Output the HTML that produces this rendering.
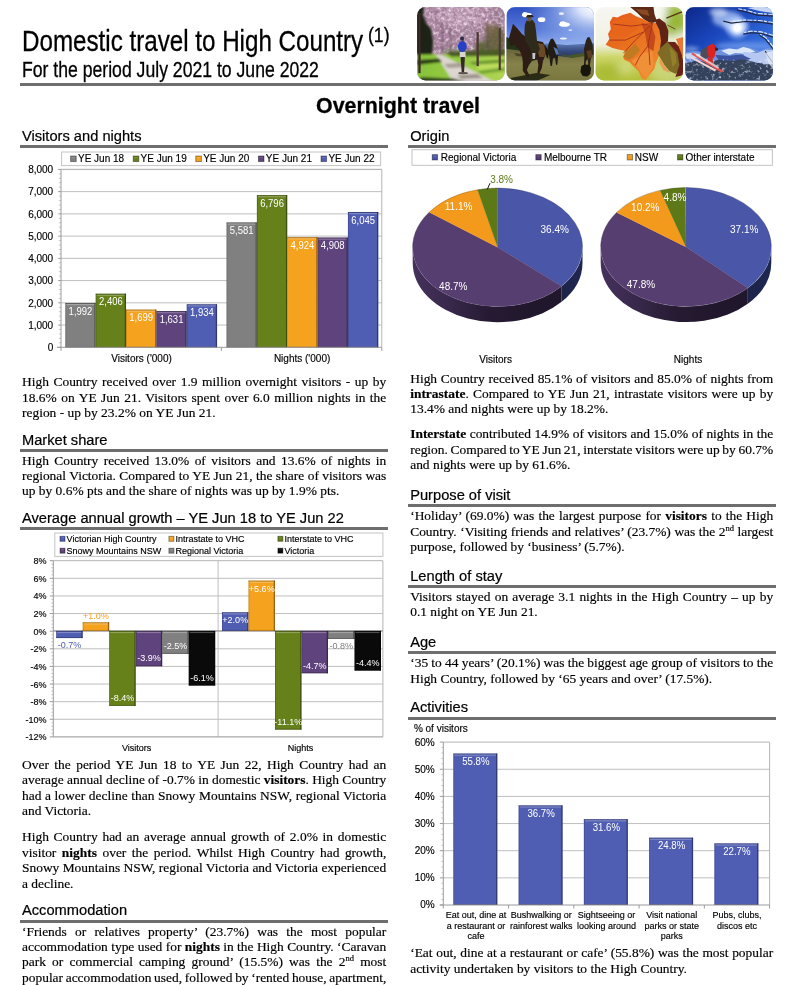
<!DOCTYPE html>
<html lang="en"><head><meta charset="utf-8"><title>Domestic travel to High Country</title>
<style>
html,body{margin:0;padding:0;background:#fff}
body{width:795px;height:985px;position:relative;overflow:hidden;font-family:'Liberation Sans', Arial, sans-serif;color:#000}
.t{-webkit-text-stroke:0.17px #000;position:absolute;white-space:nowrap;font-family:'Liberation Serif', 'Times New Roman', serif;font-size:13.45px;line-height:15.33px;height:15.33px}
.t sup.s{font-size:8.5px;vertical-align:0;position:relative;top:-5px;line-height:0}
.h{-webkit-text-stroke:0.2px #000;position:absolute;white-space:nowrap;font-size:14.67px;line-height:17px}
.x{-webkit-text-stroke:0.3px #000;position:absolute;white-space:nowrap}
.r{position:absolute;background:#6e6e6e}
svg.c{position:absolute;left:0;top:0}
svg.c text{font-family:'Liberation Sans', Arial, sans-serif}
</style></head>
<body>
<svg class="c" width="795" height="985" viewBox="0 0 795 985">

<defs>
<filter id="b05" x="-10%" y="-10%" width="120%" height="120%"><feGaussianBlur stdDeviation="0.55"/></filter>
<filter id="b1" x="-20%" y="-20%" width="140%" height="140%"><feGaussianBlur stdDeviation="1"/></filter>
<filter id="b2" x="-30%" y="-30%" width="160%" height="160%"><feGaussianBlur stdDeviation="2.2"/></filter>
<filter id="b4" x="-40%" y="-40%" width="180%" height="180%"><feGaussianBlur stdDeviation="4.5"/></filter>
<filter id="spk" x="0" y="0" width="100%" height="100%"><feTurbulence type="fractalNoise" baseFrequency="0.32" numOctaves="2" seed="7" result="n"/><feColorMatrix in="n" type="matrix" values="0 0 0 0 1  0 0 0 0 0.9  0 0 0 0 0.97  2.6 0 0 0 -1.15"/></filter>
<filter id="spd" x="0" y="0" width="100%" height="100%"><feTurbulence type="fractalNoise" baseFrequency="0.28" numOctaves="2" seed="23" result="n"/><feColorMatrix in="n" type="matrix" values="0 0 0 0 0.28  0 0 0 0 0.16  0 0 0 0 0.24  0 2.8 0 0 -1.2"/></filter>
<filter id="snw" x="0" y="0" width="100%" height="100%"><feTurbulence type="fractalNoise" baseFrequency="0.3" numOctaves="2" seed="5" result="n"/><feColorMatrix in="n" type="matrix" values="0 0 0 0 0.8  0 0 0 0 0.86  0 0 0 0 1  3.4 0 0 0 -1.85"/></filter>
<clipPath id="tile"><rect x="0" y="0" width="87.6" height="73.4" rx="8.5" ry="8.5"/></clipPath>
<linearGradient id="sky2" x1="0" y1="0" x2="0" y2="1"><stop offset="0" stop-color="#2f50c2"/><stop offset="0.3" stop-color="#5678d8"/><stop offset="0.52" stop-color="#93b0ee"/><stop offset="0.66" stop-color="#c8dcfa"/><stop offset="1" stop-color="#c8dcfa"/></linearGradient>
<radialGradient id="sun2" cx="1" cy="0" r="0.8"><stop offset="0" stop-color="#ffffff"/><stop offset="0.22" stop-color="#eef4ff" stop-opacity="0.9"/><stop offset="0.6" stop-color="#b0c8f4" stop-opacity="0.45"/><stop offset="1" stop-color="#a0bcf0" stop-opacity="0"/></radialGradient>
<linearGradient id="gr2" x1="0" y1="0" x2="0" y2="1"><stop offset="0" stop-color="#66633a"/><stop offset="0.45" stop-color="#86824a"/><stop offset="1" stop-color="#77743c"/></linearGradient>
<linearGradient id="mt2" x1="0" y1="0" x2="0" y2="1"><stop offset="0" stop-color="#5f7dbc"/><stop offset="0.5" stop-color="#34497c"/><stop offset="1" stop-color="#26345a"/></linearGradient>
<linearGradient id="sky4" x1="0" y1="0" x2="0.75" y2="0.8"><stop offset="0" stop-color="#0c2888"/><stop offset="0.45" stop-color="#1a46bc"/><stop offset="1" stop-color="#3f7ae4"/></linearGradient>
<radialGradient id="sun4" cx="0.5" cy="0.5" r="0.5"><stop offset="0" stop-color="#ffffff"/><stop offset="0.22" stop-color="#ffffff"/><stop offset="0.5" stop-color="#cfe0ff" stop-opacity="0.7"/><stop offset="1" stop-color="#6a98f0" stop-opacity="0"/></radialGradient>
<linearGradient id="bg3" x1="0" y1="0" x2="0" y2="1"><stop offset="0" stop-color="#f7f7f2"/><stop offset="0.5" stop-color="#f0f1e2"/><stop offset="0.68" stop-color="#cdd568"/><stop offset="1" stop-color="#b2c03a"/></linearGradient>
<linearGradient id="lf3" x1="0" y1="0" x2="0.7" y2="1"><stop offset="0" stop-color="#e4581a"/><stop offset="0.5" stop-color="#e9701f"/><stop offset="1" stop-color="#f08a30"/></linearGradient>
<linearGradient id="gs1" x1="0" y1="0" x2="1" y2="0"><stop offset="0" stop-color="#86c23a"/><stop offset="0.55" stop-color="#9acc44"/><stop offset="1" stop-color="#b4d654"/></linearGradient>
</defs>

<!-- tile 1 : cherry blossom cycle path -->
<g transform="translate(417.1,7.1)" clip-path="url(#tile)">
<rect width="88" height="74" fill="#b089a6"/>
<g filter="url(#b2)">
<ellipse cx="44" cy="10" rx="24" ry="10" fill="#c6a3bd"/>
<ellipse cx="28" cy="30" rx="12" ry="10" fill="#b088a6"/>
<ellipse cx="52" cy="26" rx="10" ry="8" fill="#a98aa0"/>
<ellipse cx="82" cy="8" rx="8" ry="8" fill="#a2859a"/>
<ellipse cx="36" cy="44" rx="10" ry="3.5" fill="#8a9a78"/>
</g>
<rect width="88" height="50" filter="url(#spk)" opacity="0.8"/>
<rect width="88" height="50" filter="url(#spd)" opacity="0.75"/>
<g filter="url(#b2)" opacity="0.85">
<ellipse cx="78" cy="33" rx="10" ry="15" fill="#5f5c30"/>
<ellipse cx="65" cy="41" rx="7" ry="7" fill="#52602a"/>
<ellipse cx="72" cy="22" rx="5" ry="5" fill="#7a6a48"/>
</g>
<g filter="url(#b1)">
<path d="M-2,-2 L7,-2 L6,8 L9,16 L14,22 L16,34 L15.4,46 L12,54 L5,56 L-2,56 Z" fill="#1b2412"/>
<path d="M24.6,14 L25.6,14 L26,47 L24.8,47 Z M33,20 L34,20 L34.4,47 L33.2,47 Z M70,18 L71,18 L71.4,46 L70.2,46 Z" fill="#5c4656"/>
<path d="M-2,47.5 L90,47 L90,76 L-2,76 Z" fill="url(#gs1)"/>
<path d="M18.5,47.4 L24,47.4 L78,75 L36,75 Z" fill="#dcd6ce"/>
<path d="M27,57 L44,56 L50,60 L31,61 Z" fill="#a89e96"/>
<path d="M40,68 L60,67 L66,71 L44,72 Z" fill="#9c948c"/>
<path d="M0,53 L22,51.5 L25,55 L0,58 Z" fill="#2c4016"/>
<path d="M4,70 L36,71.5 L54,76 L0,76 Z" fill="#33481c"/>
<path d="M28,45 L88,42 L88,49 L34,49.5 Z" fill="#4c5c28"/>
<path d="M52,55 L88,52 L88,56 L56,58 Z" fill="#6c9a30"/>
<path d="M60,64 L88,60 L88,64 L64,67 Z" fill="#78a636"/>
<path d="M62,57.4 L88,55.6 L88,60 L60,63.4 Z" fill="#bcdc5c"/>
</g>
<g filter="url(#b05)">
<rect x="59.4" y="25" width="2.3" height="34" fill="#4a3a30"/>
<rect x="81.6" y="21" width="2.1" height="42" fill="#4a3a30"/>
<rect x="1.2" y="6" width="2.3" height="60" fill="#3a2a26"/>
<rect x="45.2" y="30" width="1.4" height="16" fill="#64505c"/>
<ellipse cx="45.2" cy="39.4" rx="4.4" ry="5.6" fill="#2a40c4"/>
<ellipse cx="44.9" cy="31.4" rx="1.9" ry="2.1" fill="#2a2c48"/>
<path d="M42.6,45 L48.4,45 L48.6,51 L42.8,51 Z" fill="#d8d4d0"/>
<path d="M43.4,50 L47.8,50 L47,65 L44.6,65 Z" fill="#302c28"/>
<ellipse cx="46" cy="66" rx="5" ry="1.2" fill="#5a524c"/>
</g>
</g>

<!-- tile 2 : horse riders -->
<g transform="translate(506.4,7.1)" clip-path="url(#tile)">
<rect width="88" height="74" fill="url(#sky2)"/>
<rect width="88" height="56" fill="url(#sun2)"/>
<g filter="url(#b05)" fill="#ffffff">
<ellipse cx="20.4" cy="8" rx="5" ry="2.3"/><ellipse cx="18.5" cy="6.6" rx="2.4" ry="1.6"/><ellipse cx="35.2" cy="12.6" rx="3.8" ry="2.4"/><ellipse cx="58" cy="17.4" rx="5.4" ry="2.3"/><ellipse cx="56.5" cy="16" rx="3" ry="1.8"/><ellipse cx="55" cy="6.6" rx="2.6" ry="1.4" opacity="0.8"/><ellipse cx="57" cy="31.4" rx="3.4" ry="1.1" opacity="0.85"/><ellipse cx="64" cy="23" rx="2" ry="0.9" opacity="0.7"/>
</g>
<g filter="url(#b05)">
<path d="M28,37 L44,36.4 L60,38 L76,37 L88,36 L88,52 L28,52 Z" fill="url(#mt2)"/>
<path d="M-2,29 L4,32 L10,38 L16,41 L16,48 L-2,48 Z" fill="#243418"/>
<path d="M-2,41.5 L20,44.5 L40,47.5 L64,50.5 L78,48 L90,46 L90,76 L-2,76 Z" fill="url(#gr2)"/>
<path d="M50,47 L62,48.4 L76,46 L88,43.4 L88,47.4 L66,51 Z" fill="#46542a"/>
<path d="M4,71 L30,66 L44,68 L30,74 L6,76 Z" fill="#2c2c16"/>
<path d="M8,46 L20,48 L22,50 L10,49 Z" fill="#4a4426"/>
</g>
<g filter="url(#b05)">
<path d="M6.6,16.6 L8.6,19 L11,21.4 L15.6,27 L22,31.4 L30,33.6 L36.4,35 L39.6,40.6 L39,48 L36.6,54 L35.4,61 L32.6,67.4 L31,66 L32,58 L31,52.4 L25.4,54 L22.6,58 L20.4,63 L23.4,69 L21,70.4 L16.4,63.6 L16.4,55 L15.6,49 L12.4,42 L8,38 L4,38.4 L2,33 L4.6,24 Z" fill="#2d1e12"/>
<path d="M30,36 L37,37 L39.4,44 L38,50 L33,50 L31,44 Z" fill="#6a4826"/>
<path d="M38.6,38 L41.6,43 L42,52 L40,50 L39,44 Z" fill="#1e160e"/>
<path d="M20,13.6 L26,13 L28.6,16.4 L29.6,24 L30.6,33.6 L33.4,42 L31.6,46 L28,46.6 L26.4,53 L24,53 L24.6,44 L22,38.6 L19,34 L18,26 L18.4,18 Z" fill="#2e2a1c"/>
<ellipse cx="23" cy="12" rx="2.2" ry="2.3" fill="#6a5440"/>
<path d="M19,10.6 L27.4,10 L26,8 L21,8 Z" fill="#28241a"/>
<path d="M26,46 L29,46 L28.6,52 L26.2,52 Z" fill="#c8c8d0"/>
<path d="M42.6,35.6 L44.4,32 L46.4,31.4 L48,34 L50,38 L52,44 L51.6,50 L51,57.6 L49.6,57.6 L48.6,51 L46.6,51.4 L45.6,59 L44,58.6 L43,50 L41,45 L41.6,39 Z" fill="#241e16"/>
<path d="M47,40 L51,42 L52.4,47 L50,48 Z" fill="#5a78b0"/>
<path d="M79.4,34 L81,30.4 L83,30 L84.6,33 L86.4,38 L86.4,47 L84.4,52 L83.4,59 L82,59 L81.4,52 L79.6,54 L79,58 L77.6,58 L78,48 L77.6,42 Z" fill="#2a2016"/>
<path d="M80,44 L85,43 L86,50 L82,52 Z" fill="#5c3c20"/>
<path d="M75,59 L78,57.4 L82.6,57.6 L84.6,61 L84,66.6 L81,69.4 L76.4,69 L74,65 Z" fill="#12120e"/>
</g>
</g>

<!-- tile 3 : autumn leaf -->
<g transform="translate(595.4,7.1)" clip-path="url(#tile)">
<rect width="88" height="74" fill="url(#bg3)"/>
<g filter="url(#b4)">
<ellipse cx="80" cy="14" rx="13" ry="17" fill="#98b838"/>
<ellipse cx="72" cy="64" rx="18" ry="12" fill="#c9d478"/>
<ellipse cx="66" cy="8" rx="5" ry="8" fill="#fafaf2"/>
<ellipse cx="12" cy="66" rx="14" ry="9" fill="#aabc34"/>
<ellipse cx="84" cy="30" rx="5" ry="5" fill="#eef0d8"/>
<ellipse cx="30" cy="60" rx="8" ry="6" fill="#d2da80"/>
</g>
<g filter="url(#b05)">
<path d="M33.6,-1 L58,-1 L59,7 L61.4,14 L56,17 L48,12 L42,6 Z" fill="#5a2a14"/>
<path d="M40,2 L52,3 L54,9 L46,7 Z" fill="#8a4a20"/>
<path d="M17.4,9.6 L22,10.4 L27,8 L35,5.6 L40,9 L47,11.6 L54,15.4 L61,16 L65,24 L66,38 L64,48 L60.4,56 L59,62 L54,68 L50.4,73 L46.6,72 L43,64 L38.6,60 L34,55 L29,52.6 L27.8,50 L30,44 L24,42.6 L17,41 L10.2,37.6 L14,32 L12.6,27 L15.4,22 L14.4,15 Z" fill="url(#lf3)"/>
<path d="M28,50 L31,44 L40,36.6 L44.6,43 L38,50 L33,53 Z" fill="#c07a22"/>
<path d="M36,54 L48,46 L57,44 L58,58 L51,71 L46,66 L42,60 Z" fill="#f09038"/>
<path d="M18,14 L30,10 L40,13 L42,22 L30,30 L18,28 Z" fill="#e8661e"/>
<path d="M46,16 L56,18 L60,30 L58,44 L52,40 L50,28 Z" fill="#c44a1a"/>
<path d="M57,16.4 L40,33 L28,46 M57,16.4 L53,36 L54.6,58 M57,16.4 L36,19 L18,17 M48,25 L30,33 L14,33 M53,38 L44,50 L40,58" stroke="#a6321a" stroke-width="0.9" fill="none"/>
<path d="M59,13 L64,11.4 L70,16 L73,24 L72.6,34 L68,41 L64,46 L65.6,34 L64,23 Z" fill="#5e2416"/>
<path d="M62,46 L66,40 L72,34.6 L80,35 L85.6,42 L87,54 L85.6,63 L80,66.6 L74,64 L69,58 Z" fill="#7e6c26"/>
<path d="M72,35 L79,35 L85.6,42 L88,56 L88,68 L80,70 L84,58 L82,46 Z" fill="#6a2414"/>
<path d="M74,40 L80,46 L81,56 L77,60 Z" fill="#94802c"/>
<path d="M80.6,32 L88,30 L88,52 L84.6,43 Z" fill="#ea7832"/>
<path d="M64,50 L70,60 L75,66 L68,63 L64,56 Z" fill="#ea9c54"/>
<path d="M71,11 L87,4.6" stroke="#5a3414" stroke-width="1.3"/>
<path d="M72,18 L80,22" stroke="#5a3414" stroke-width="0.8"/>
</g>
</g>

<!-- tile 4 : skier -->
<g transform="translate(685.3,7.1)" clip-path="url(#tile)">
<rect width="88" height="74" fill="url(#sky4)"/>
<g filter="url(#b2)">
<ellipse cx="42" cy="12" rx="15" ry="8" fill="#a4bef0" opacity="0.8"/>
<ellipse cx="33" cy="5" rx="9" ry="4" fill="#cddcf8" opacity="0.75"/>
<ellipse cx="50" cy="18" rx="12" ry="7" fill="#c4d8fa" opacity="0.8"/>
<ellipse cx="60" cy="39" rx="30" ry="4" fill="#6c96ea" opacity="0.8"/>
<ellipse cx="6" cy="42" rx="8" ry="2" fill="#a8c0f0" opacity="0.8"/>
</g>
<circle cx="52" cy="20.8" r="14" fill="url(#sun4)"/>
<g filter="url(#b05)">
<path d="M-2,45 L10,44 L24,46 L32,43 L42,41 L50,42 L58,39.6 L66,41 L74,44 L82,41 L90,42 L90,76 L-2,76 Z" fill="#6f92de"/>
<path d="M36,43.6 L44,41.4 L52,42.4 L58,40 L64,41.4 L70,44.4 L62,47 L50,46 L44,48 Z" fill="#dbe6fa"/>
<path d="M58,45 L72,46 L80,42.6 L88,43 L88,54 L72,56 L60,52 Z" fill="#b4c8f2"/>
<path d="M-2,47 L8,45.6 L18,48 L14,51 L2,52 Z" fill="#c6d6f4"/>
<path d="M30,48 L44,48.6 L56,47.4 L66,52 L50,55 L34,54 Z" fill="#3c52a0"/>
<path d="M-2,57 L10,53.6 L22,55 L34,52.6 L46,54 L58,52 L68,55 L78,56.6 L90,54.6 L90,76 L-2,76 Z" fill="#36425c"/>
<path d="M74,51 L88,49.4 L88,57 L78,57.4 Z" fill="#bccaee"/>
</g>
<rect x="0" y="52" width="88" height="22" filter="url(#snw)" opacity="0.72"/>
<g filter="url(#b05)">
<path d="M88,9 L72,8 L60,4.6 L52,3 M88,17 L74,15 L60,14.4 L46,16 L38,14 M88,30 L76,26.4 L66,25.6 L58,27 M88,42 L80,32 L74,28 M88,56 L82,48 L80,44" stroke="#22263a" stroke-width="1.1" fill="none"/>
<path d="M88,7.4 L72,6.4 L60,3 L53,1.6 M88,15.4 L74,13.4 L60,12.8 L47,14.4 M88,28.4 L76,24.8 L66,24 L59,25.4 M88,40 L81,31 L75,27" stroke="#dfe8fa" stroke-width="1.1" fill="none" stroke-dasharray="5 1.5 3 1"/>
<path d="M62,1 L76,-1 L88,2 L88,6 L74,4 Z" fill="#e4ecfa" opacity="0.85"/>
<path d="M80,46 L88,44 L88,62 L83,56 Z" fill="#e4ecfa" opacity="0.75"/>
</g>
<g filter="url(#b05)">
<path d="M15.6,43 L21,39.6 L24,41 L24.6,50 L19,52.4 L15,49 Z" fill="#4c4e5c"/>
<path d="M22.6,39 L27,36.6 L30,38.4 L30.6,44 L29,50.4 L24,51.4 L22,46 Z" fill="#dc2020"/>
<path d="M29.6,40 L33,41.6 L32,44 L30,43.4 Z" fill="#2a2630"/>
<path d="M22,51 L27.6,50 L27.4,57 L23.4,57.6 Z" fill="#d42a2a"/>
<path d="M5.6,47 L7.6,45.6 L38,63.6 L36.4,65.6 Z" fill="#e05252"/>
<path d="M5,51 L6.6,49.6 L31,62.6 L29.6,64.4 Z" fill="#f2d6d6"/>
<path d="M10,48 L12,47 L34,60 L32.6,61.6 Z" fill="#f6eaea" opacity="0.7"/>
</g>
</g>

<rect x="61.60" y="152.00" width="319.00" height="13.60" fill="#fff" stroke="#c4c4c4" stroke-width="1"/>
<rect x="70.60" y="156.00" width="5.60" height="5.60" fill="#808080"/>
<rect x="70.60" y="156.00" width="5.60" height="5.60" fill="none" stroke="rgba(0,0,0,0.42)" stroke-width="0.9"/>
<rect x="71.60" y="157.00" width="3.60" height="1.00" fill="rgba(255,255,255,0.15)"/>
<text x="78.00" y="162.20" font-size="10" fill="#000" stroke="#000" stroke-width="0.15" text-anchor="start">YE Jun 18</text>
<rect x="133.20" y="156.00" width="5.60" height="5.60" fill="#66801a"/>
<rect x="133.20" y="156.00" width="5.60" height="5.60" fill="none" stroke="rgba(0,0,0,0.42)" stroke-width="0.9"/>
<rect x="134.20" y="157.00" width="3.60" height="1.00" fill="rgba(255,255,255,0.15)"/>
<text x="140.60" y="162.20" font-size="10" fill="#000" stroke="#000" stroke-width="0.15" text-anchor="start">YE Jun 19</text>
<rect x="195.80" y="156.00" width="5.60" height="5.60" fill="#f5a21e"/>
<rect x="195.80" y="156.00" width="5.60" height="5.60" fill="none" stroke="rgba(0,0,0,0.42)" stroke-width="0.9"/>
<rect x="196.80" y="157.00" width="3.60" height="1.00" fill="rgba(255,255,255,0.15)"/>
<text x="203.20" y="162.20" font-size="10" fill="#000" stroke="#000" stroke-width="0.15" text-anchor="start">YE Jun 20</text>
<rect x="258.40" y="156.00" width="5.60" height="5.60" fill="#5f437c"/>
<rect x="258.40" y="156.00" width="5.60" height="5.60" fill="none" stroke="rgba(0,0,0,0.42)" stroke-width="0.9"/>
<rect x="259.40" y="157.00" width="3.60" height="1.00" fill="rgba(255,255,255,0.15)"/>
<text x="265.80" y="162.20" font-size="10" fill="#000" stroke="#000" stroke-width="0.15" text-anchor="start">YE Jun 21</text>
<rect x="321.00" y="156.00" width="5.60" height="5.60" fill="#4f5db3"/>
<rect x="321.00" y="156.00" width="5.60" height="5.60" fill="none" stroke="rgba(0,0,0,0.42)" stroke-width="0.9"/>
<rect x="322.00" y="157.00" width="3.60" height="1.00" fill="rgba(255,255,255,0.15)"/>
<text x="328.40" y="162.20" font-size="10" fill="#000" stroke="#000" stroke-width="0.15" text-anchor="start">YE Jun 22</text>
<line x1="61.00" y1="169.40" x2="381.80" y2="169.40" stroke="#bfbfbf" stroke-width="1"/>
<text x="53.20" y="173.10" font-size="10" fill="#000" stroke="#000" stroke-width="0.15" text-anchor="end">8,000</text>
<line x1="58.20" y1="169.40" x2="61.00" y2="169.40" stroke="#9a9a9a" stroke-width="1"/>
<line x1="58.80" y1="173.85" x2="61.00" y2="173.85" stroke="#bdbdbd" stroke-width="0.8"/>
<line x1="58.80" y1="178.30" x2="61.00" y2="178.30" stroke="#bdbdbd" stroke-width="0.8"/>
<line x1="58.80" y1="182.74" x2="61.00" y2="182.74" stroke="#bdbdbd" stroke-width="0.8"/>
<line x1="58.80" y1="187.19" x2="61.00" y2="187.19" stroke="#bdbdbd" stroke-width="0.8"/>
<line x1="61.00" y1="191.64" x2="381.80" y2="191.64" stroke="#bfbfbf" stroke-width="1"/>
<text x="53.20" y="195.34" font-size="10" fill="#000" stroke="#000" stroke-width="0.15" text-anchor="end">7,000</text>
<line x1="58.20" y1="191.64" x2="61.00" y2="191.64" stroke="#9a9a9a" stroke-width="1"/>
<line x1="58.80" y1="196.09" x2="61.00" y2="196.09" stroke="#bdbdbd" stroke-width="0.8"/>
<line x1="58.80" y1="200.53" x2="61.00" y2="200.53" stroke="#bdbdbd" stroke-width="0.8"/>
<line x1="58.80" y1="204.98" x2="61.00" y2="204.98" stroke="#bdbdbd" stroke-width="0.8"/>
<line x1="58.80" y1="209.43" x2="61.00" y2="209.43" stroke="#bdbdbd" stroke-width="0.8"/>
<line x1="61.00" y1="213.88" x2="381.80" y2="213.88" stroke="#bfbfbf" stroke-width="1"/>
<text x="53.20" y="217.57" font-size="10" fill="#000" stroke="#000" stroke-width="0.15" text-anchor="end">6,000</text>
<line x1="58.20" y1="213.88" x2="61.00" y2="213.88" stroke="#9a9a9a" stroke-width="1"/>
<line x1="58.80" y1="218.32" x2="61.00" y2="218.32" stroke="#bdbdbd" stroke-width="0.8"/>
<line x1="58.80" y1="222.77" x2="61.00" y2="222.77" stroke="#bdbdbd" stroke-width="0.8"/>
<line x1="58.80" y1="227.22" x2="61.00" y2="227.22" stroke="#bdbdbd" stroke-width="0.8"/>
<line x1="58.80" y1="231.66" x2="61.00" y2="231.66" stroke="#bdbdbd" stroke-width="0.8"/>
<line x1="61.00" y1="236.11" x2="381.80" y2="236.11" stroke="#bfbfbf" stroke-width="1"/>
<text x="53.20" y="239.81" font-size="10" fill="#000" stroke="#000" stroke-width="0.15" text-anchor="end">5,000</text>
<line x1="58.20" y1="236.11" x2="61.00" y2="236.11" stroke="#9a9a9a" stroke-width="1"/>
<line x1="58.80" y1="240.56" x2="61.00" y2="240.56" stroke="#bdbdbd" stroke-width="0.8"/>
<line x1="58.80" y1="245.01" x2="61.00" y2="245.01" stroke="#bdbdbd" stroke-width="0.8"/>
<line x1="58.80" y1="249.46" x2="61.00" y2="249.46" stroke="#bdbdbd" stroke-width="0.8"/>
<line x1="58.80" y1="253.90" x2="61.00" y2="253.90" stroke="#bdbdbd" stroke-width="0.8"/>
<line x1="61.00" y1="258.35" x2="381.80" y2="258.35" stroke="#bfbfbf" stroke-width="1"/>
<text x="53.20" y="262.05" font-size="10" fill="#000" stroke="#000" stroke-width="0.15" text-anchor="end">4,000</text>
<line x1="58.20" y1="258.35" x2="61.00" y2="258.35" stroke="#9a9a9a" stroke-width="1"/>
<line x1="58.80" y1="262.80" x2="61.00" y2="262.80" stroke="#bdbdbd" stroke-width="0.8"/>
<line x1="58.80" y1="267.25" x2="61.00" y2="267.25" stroke="#bdbdbd" stroke-width="0.8"/>
<line x1="58.80" y1="271.69" x2="61.00" y2="271.69" stroke="#bdbdbd" stroke-width="0.8"/>
<line x1="58.80" y1="276.14" x2="61.00" y2="276.14" stroke="#bdbdbd" stroke-width="0.8"/>
<line x1="61.00" y1="280.59" x2="381.80" y2="280.59" stroke="#bfbfbf" stroke-width="1"/>
<text x="53.20" y="284.29" font-size="10" fill="#000" stroke="#000" stroke-width="0.15" text-anchor="end">3,000</text>
<line x1="58.20" y1="280.59" x2="61.00" y2="280.59" stroke="#9a9a9a" stroke-width="1"/>
<line x1="58.80" y1="285.03" x2="61.00" y2="285.03" stroke="#bdbdbd" stroke-width="0.8"/>
<line x1="58.80" y1="289.48" x2="61.00" y2="289.48" stroke="#bdbdbd" stroke-width="0.8"/>
<line x1="58.80" y1="293.93" x2="61.00" y2="293.93" stroke="#bdbdbd" stroke-width="0.8"/>
<line x1="58.80" y1="298.38" x2="61.00" y2="298.38" stroke="#bdbdbd" stroke-width="0.8"/>
<line x1="61.00" y1="302.83" x2="381.80" y2="302.83" stroke="#bfbfbf" stroke-width="1"/>
<text x="53.20" y="306.53" font-size="10" fill="#000" stroke="#000" stroke-width="0.15" text-anchor="end">2,000</text>
<line x1="58.20" y1="302.83" x2="61.00" y2="302.83" stroke="#9a9a9a" stroke-width="1"/>
<line x1="58.80" y1="307.27" x2="61.00" y2="307.27" stroke="#bdbdbd" stroke-width="0.8"/>
<line x1="58.80" y1="311.72" x2="61.00" y2="311.72" stroke="#bdbdbd" stroke-width="0.8"/>
<line x1="58.80" y1="316.17" x2="61.00" y2="316.17" stroke="#bdbdbd" stroke-width="0.8"/>
<line x1="58.80" y1="320.62" x2="61.00" y2="320.62" stroke="#bdbdbd" stroke-width="0.8"/>
<line x1="61.00" y1="325.06" x2="381.80" y2="325.06" stroke="#bfbfbf" stroke-width="1"/>
<text x="53.20" y="328.76" font-size="10" fill="#000" stroke="#000" stroke-width="0.15" text-anchor="end">1,000</text>
<line x1="58.20" y1="325.06" x2="61.00" y2="325.06" stroke="#9a9a9a" stroke-width="1"/>
<line x1="58.80" y1="329.51" x2="61.00" y2="329.51" stroke="#bdbdbd" stroke-width="0.8"/>
<line x1="58.80" y1="333.96" x2="61.00" y2="333.96" stroke="#bdbdbd" stroke-width="0.8"/>
<line x1="58.80" y1="338.40" x2="61.00" y2="338.40" stroke="#bdbdbd" stroke-width="0.8"/>
<line x1="58.80" y1="342.85" x2="61.00" y2="342.85" stroke="#bdbdbd" stroke-width="0.8"/>
<text x="53.20" y="351.00" font-size="10" fill="#000" stroke="#000" stroke-width="0.15" text-anchor="end">0</text>
<line x1="58.20" y1="347.30" x2="61.00" y2="347.30" stroke="#9a9a9a" stroke-width="1"/>
<line x1="381.80" y1="169.40" x2="381.80" y2="347.30" stroke="#b4b4b4" stroke-width="1"/>
<line x1="61.00" y1="169.40" x2="381.80" y2="169.40" stroke="#b4b4b4" stroke-width="1"/>
<line x1="61.00" y1="169.40" x2="61.00" y2="347.80" stroke="#9a9a9a" stroke-width="1"/>
<rect x="65.33" y="302.98" width="30.35" height="44.72" fill="#808080"/>
<rect x="65.33" y="302.98" width="30.35" height="1.00" fill="rgba(0,0,0,0.28)"/>
<rect x="66.33" y="303.98" width="28.05" height="1.20" fill="rgba(255,255,255,0.28)"/>
<rect x="94.38" y="302.98" width="1.30" height="44.72" fill="rgba(0,0,0,0.38)"/>
<rect x="65.33" y="302.98" width="0.80" height="44.72" fill="rgba(0,0,0,0.18)"/>
<rect x="65.33" y="346.70" width="30.35" height="1.00" fill="rgba(0,0,0,0.25)"/>
<text transform="translate(80.50,314.58) scale(0.95,1)" font-size="10" fill="#fff" text-anchor="middle">1,992</text>
<rect x="95.67" y="293.69" width="30.35" height="54.01" fill="#66801a"/>
<rect x="95.67" y="293.69" width="30.35" height="1.00" fill="rgba(0,0,0,0.28)"/>
<rect x="96.67" y="294.69" width="28.05" height="1.20" fill="rgba(255,255,255,0.28)"/>
<rect x="124.73" y="293.69" width="1.30" height="54.01" fill="rgba(0,0,0,0.38)"/>
<rect x="95.67" y="293.69" width="0.80" height="54.01" fill="rgba(0,0,0,0.18)"/>
<rect x="95.67" y="346.70" width="30.35" height="1.00" fill="rgba(0,0,0,0.25)"/>
<text transform="translate(110.85,305.29) scale(0.95,1)" font-size="10" fill="#fff" text-anchor="middle">2,406</text>
<rect x="126.03" y="309.56" width="30.35" height="38.14" fill="#f5a21e"/>
<rect x="126.03" y="309.56" width="30.35" height="1.00" fill="rgba(0,0,0,0.28)"/>
<rect x="127.03" y="310.56" width="28.05" height="1.20" fill="rgba(255,255,255,0.28)"/>
<rect x="155.07" y="309.56" width="1.30" height="38.14" fill="rgba(0,0,0,0.38)"/>
<rect x="126.03" y="309.56" width="0.80" height="38.14" fill="rgba(0,0,0,0.18)"/>
<rect x="126.03" y="346.70" width="30.35" height="1.00" fill="rgba(0,0,0,0.25)"/>
<text transform="translate(141.20,321.16) scale(0.95,1)" font-size="10" fill="#fff" text-anchor="middle">1,699</text>
<rect x="156.38" y="311.08" width="30.35" height="36.62" fill="#5f437c"/>
<rect x="156.38" y="311.08" width="30.35" height="1.00" fill="rgba(0,0,0,0.28)"/>
<rect x="157.38" y="312.08" width="28.05" height="1.20" fill="rgba(255,255,255,0.28)"/>
<rect x="185.42" y="311.08" width="1.30" height="36.62" fill="rgba(0,0,0,0.38)"/>
<rect x="156.38" y="311.08" width="0.80" height="36.62" fill="rgba(0,0,0,0.18)"/>
<rect x="156.38" y="346.70" width="30.35" height="1.00" fill="rgba(0,0,0,0.25)"/>
<text transform="translate(171.55,322.68) scale(0.95,1)" font-size="10" fill="#fff" text-anchor="middle">1,631</text>
<rect x="186.72" y="304.28" width="30.35" height="43.42" fill="#4f5db3"/>
<rect x="186.72" y="304.28" width="30.35" height="1.00" fill="rgba(0,0,0,0.28)"/>
<rect x="187.72" y="305.28" width="28.05" height="1.20" fill="rgba(255,255,255,0.28)"/>
<rect x="215.77" y="304.28" width="1.30" height="43.42" fill="rgba(0,0,0,0.38)"/>
<rect x="186.72" y="304.28" width="0.80" height="43.42" fill="rgba(0,0,0,0.18)"/>
<rect x="186.72" y="346.70" width="30.35" height="1.00" fill="rgba(0,0,0,0.25)"/>
<text transform="translate(201.90,315.88) scale(0.95,1)" font-size="10" fill="#fff" text-anchor="middle">1,934</text>
<rect x="226.53" y="222.41" width="30.35" height="125.29" fill="#808080"/>
<rect x="226.53" y="222.41" width="30.35" height="1.00" fill="rgba(0,0,0,0.28)"/>
<rect x="227.53" y="223.41" width="28.05" height="1.20" fill="rgba(255,255,255,0.28)"/>
<rect x="255.57" y="222.41" width="1.30" height="125.29" fill="rgba(0,0,0,0.38)"/>
<rect x="226.53" y="222.41" width="0.80" height="125.29" fill="rgba(0,0,0,0.18)"/>
<rect x="226.53" y="346.70" width="30.35" height="1.00" fill="rgba(0,0,0,0.25)"/>
<text transform="translate(241.70,234.01) scale(0.95,1)" font-size="10" fill="#fff" text-anchor="middle">5,581</text>
<rect x="256.88" y="195.13" width="30.35" height="152.57" fill="#66801a"/>
<rect x="256.88" y="195.13" width="30.35" height="1.00" fill="rgba(0,0,0,0.28)"/>
<rect x="257.88" y="196.13" width="28.05" height="1.20" fill="rgba(255,255,255,0.28)"/>
<rect x="285.93" y="195.13" width="1.30" height="152.57" fill="rgba(0,0,0,0.38)"/>
<rect x="256.88" y="195.13" width="0.80" height="152.57" fill="rgba(0,0,0,0.18)"/>
<rect x="256.88" y="346.70" width="30.35" height="1.00" fill="rgba(0,0,0,0.25)"/>
<text transform="translate(272.05,206.73) scale(0.95,1)" font-size="10" fill="#fff" text-anchor="middle">6,796</text>
<rect x="287.23" y="237.16" width="30.35" height="110.54" fill="#f5a21e"/>
<rect x="287.23" y="237.16" width="30.35" height="1.00" fill="rgba(0,0,0,0.28)"/>
<rect x="288.23" y="238.16" width="28.05" height="1.20" fill="rgba(255,255,255,0.28)"/>
<rect x="316.28" y="237.16" width="1.30" height="110.54" fill="rgba(0,0,0,0.38)"/>
<rect x="287.23" y="237.16" width="0.80" height="110.54" fill="rgba(0,0,0,0.18)"/>
<rect x="287.23" y="346.70" width="30.35" height="1.00" fill="rgba(0,0,0,0.25)"/>
<text transform="translate(302.40,248.76) scale(0.95,1)" font-size="10" fill="#fff" text-anchor="middle">4,924</text>
<rect x="317.58" y="237.52" width="30.35" height="110.18" fill="#5f437c"/>
<rect x="317.58" y="237.52" width="30.35" height="1.00" fill="rgba(0,0,0,0.28)"/>
<rect x="318.58" y="238.52" width="28.05" height="1.20" fill="rgba(255,255,255,0.28)"/>
<rect x="346.63" y="237.52" width="1.30" height="110.18" fill="rgba(0,0,0,0.38)"/>
<rect x="317.58" y="237.52" width="0.80" height="110.18" fill="rgba(0,0,0,0.18)"/>
<rect x="317.58" y="346.70" width="30.35" height="1.00" fill="rgba(0,0,0,0.25)"/>
<text transform="translate(332.75,249.12) scale(0.95,1)" font-size="10" fill="#fff" text-anchor="middle">4,908</text>
<rect x="347.93" y="211.99" width="30.35" height="135.71" fill="#4f5db3"/>
<rect x="347.93" y="211.99" width="30.35" height="1.00" fill="rgba(0,0,0,0.28)"/>
<rect x="348.93" y="212.99" width="28.05" height="1.20" fill="rgba(255,255,255,0.28)"/>
<rect x="376.98" y="211.99" width="1.30" height="135.71" fill="rgba(0,0,0,0.38)"/>
<rect x="347.93" y="211.99" width="0.80" height="135.71" fill="rgba(0,0,0,0.18)"/>
<rect x="347.93" y="346.70" width="30.35" height="1.00" fill="rgba(0,0,0,0.25)"/>
<text transform="translate(363.10,223.59) scale(0.95,1)" font-size="10" fill="#fff" text-anchor="middle">6,045</text>
<line x1="57.00" y1="347.30" x2="381.80" y2="347.30" stroke="#9a9a9a" stroke-width="1"/>
<line x1="61.00" y1="347.30" x2="61.00" y2="350.80" stroke="#9a9a9a" stroke-width="1"/>
<line x1="221.40" y1="347.30" x2="221.40" y2="350.80" stroke="#9a9a9a" stroke-width="1"/>
<line x1="381.80" y1="347.30" x2="381.80" y2="350.80" stroke="#9a9a9a" stroke-width="1"/>
<text x="141.50" y="362.00" font-size="10" fill="#000" stroke="#000" stroke-width="0.15" text-anchor="middle">Visitors ('000)</text>
<text x="302.10" y="362.00" font-size="10" fill="#000" stroke="#000" stroke-width="0.15" text-anchor="middle">Nights ('000)</text>
<rect x="54.80" y="533.00" width="328.10" height="23.40" fill="#fff" stroke="#c4c4c4" stroke-width="1"/>
<rect x="60.00" y="536.30" width="5.00" height="5.00" fill="#4f5db3"/>
<rect x="60.00" y="536.30" width="5.00" height="5.00" fill="none" stroke="rgba(0,0,0,0.42)" stroke-width="0.9"/>
<rect x="61.00" y="537.30" width="3.00" height="1.00" fill="rgba(255,255,255,0.15)"/>
<text x="66.60" y="541.70" font-size="9" fill="#000" stroke="#000" stroke-width="0.15" text-anchor="start">Victorian High Country</text>
<rect x="168.90" y="536.30" width="5.00" height="5.00" fill="#f5a21e"/>
<rect x="168.90" y="536.30" width="5.00" height="5.00" fill="none" stroke="rgba(0,0,0,0.42)" stroke-width="0.9"/>
<rect x="169.90" y="537.30" width="3.00" height="1.00" fill="rgba(255,255,255,0.15)"/>
<text x="175.50" y="541.70" font-size="9" fill="#000" stroke="#000" stroke-width="0.15" text-anchor="start">Intrastate to VHC</text>
<rect x="277.90" y="536.30" width="5.00" height="5.00" fill="#66801a"/>
<rect x="277.90" y="536.30" width="5.00" height="5.00" fill="none" stroke="rgba(0,0,0,0.42)" stroke-width="0.9"/>
<rect x="278.90" y="537.30" width="3.00" height="1.00" fill="rgba(255,255,255,0.15)"/>
<text x="284.50" y="541.70" font-size="9" fill="#000" stroke="#000" stroke-width="0.15" text-anchor="start">Interstate to VHC</text>
<rect x="60.00" y="548.20" width="5.00" height="5.00" fill="#5f437c"/>
<rect x="60.00" y="548.20" width="5.00" height="5.00" fill="none" stroke="rgba(0,0,0,0.42)" stroke-width="0.9"/>
<rect x="61.00" y="549.20" width="3.00" height="1.00" fill="rgba(255,255,255,0.15)"/>
<text x="66.60" y="553.60" font-size="9" fill="#000" stroke="#000" stroke-width="0.15" text-anchor="start">Snowy Mountains NSW</text>
<rect x="168.90" y="548.20" width="5.00" height="5.00" fill="#808080"/>
<rect x="168.90" y="548.20" width="5.00" height="5.00" fill="none" stroke="rgba(0,0,0,0.42)" stroke-width="0.9"/>
<rect x="169.90" y="549.20" width="3.00" height="1.00" fill="rgba(255,255,255,0.15)"/>
<text x="175.50" y="553.60" font-size="9" fill="#000" stroke="#000" stroke-width="0.15" text-anchor="start">Regional Victoria</text>
<rect x="277.90" y="548.20" width="5.00" height="5.00" fill="#0a0a0a"/>
<rect x="277.90" y="548.20" width="5.00" height="5.00" fill="none" stroke="rgba(0,0,0,0.42)" stroke-width="0.9"/>
<rect x="278.90" y="549.20" width="3.00" height="1.00" fill="rgba(255,255,255,0.15)"/>
<text x="284.50" y="553.60" font-size="9" fill="#000" stroke="#000" stroke-width="0.15" text-anchor="start">Victoria</text>
<text x="46.60" y="564.20" font-size="9" fill="#000" stroke="#000" stroke-width="0.15" text-anchor="end">8%</text>
<line x1="49.80" y1="560.70" x2="53.30" y2="560.70" stroke="#9a9a9a" stroke-width="1"/>
<line x1="51.30" y1="564.22" x2="53.30" y2="564.22" stroke="#bdbdbd" stroke-width="0.8"/>
<line x1="51.30" y1="567.75" x2="53.30" y2="567.75" stroke="#bdbdbd" stroke-width="0.8"/>
<line x1="51.30" y1="571.27" x2="53.30" y2="571.27" stroke="#bdbdbd" stroke-width="0.8"/>
<line x1="51.30" y1="574.80" x2="53.30" y2="574.80" stroke="#bdbdbd" stroke-width="0.8"/>
<line x1="53.30" y1="578.32" x2="382.90" y2="578.32" stroke="#bfbfbf" stroke-width="1"/>
<text x="46.60" y="581.82" font-size="9" fill="#000" stroke="#000" stroke-width="0.15" text-anchor="end">6%</text>
<line x1="49.80" y1="578.32" x2="53.30" y2="578.32" stroke="#9a9a9a" stroke-width="1"/>
<line x1="51.30" y1="581.84" x2="53.30" y2="581.84" stroke="#bdbdbd" stroke-width="0.8"/>
<line x1="51.30" y1="585.37" x2="53.30" y2="585.37" stroke="#bdbdbd" stroke-width="0.8"/>
<line x1="51.30" y1="588.89" x2="53.30" y2="588.89" stroke="#bdbdbd" stroke-width="0.8"/>
<line x1="51.30" y1="592.42" x2="53.30" y2="592.42" stroke="#bdbdbd" stroke-width="0.8"/>
<line x1="53.30" y1="595.94" x2="382.90" y2="595.94" stroke="#bfbfbf" stroke-width="1"/>
<text x="46.60" y="599.44" font-size="9" fill="#000" stroke="#000" stroke-width="0.15" text-anchor="end">4%</text>
<line x1="49.80" y1="595.94" x2="53.30" y2="595.94" stroke="#9a9a9a" stroke-width="1"/>
<line x1="51.30" y1="599.46" x2="53.30" y2="599.46" stroke="#bdbdbd" stroke-width="0.8"/>
<line x1="51.30" y1="602.99" x2="53.30" y2="602.99" stroke="#bdbdbd" stroke-width="0.8"/>
<line x1="51.30" y1="606.51" x2="53.30" y2="606.51" stroke="#bdbdbd" stroke-width="0.8"/>
<line x1="51.30" y1="610.04" x2="53.30" y2="610.04" stroke="#bdbdbd" stroke-width="0.8"/>
<line x1="53.30" y1="613.56" x2="382.90" y2="613.56" stroke="#bfbfbf" stroke-width="1"/>
<text x="46.60" y="617.06" font-size="9" fill="#000" stroke="#000" stroke-width="0.15" text-anchor="end">2%</text>
<line x1="49.80" y1="613.56" x2="53.30" y2="613.56" stroke="#9a9a9a" stroke-width="1"/>
<line x1="51.30" y1="617.08" x2="53.30" y2="617.08" stroke="#bdbdbd" stroke-width="0.8"/>
<line x1="51.30" y1="620.61" x2="53.30" y2="620.61" stroke="#bdbdbd" stroke-width="0.8"/>
<line x1="51.30" y1="624.13" x2="53.30" y2="624.13" stroke="#bdbdbd" stroke-width="0.8"/>
<line x1="51.30" y1="627.66" x2="53.30" y2="627.66" stroke="#bdbdbd" stroke-width="0.8"/>
<line x1="53.30" y1="631.18" x2="382.90" y2="631.18" stroke="#bfbfbf" stroke-width="1"/>
<text x="46.60" y="634.68" font-size="9" fill="#000" stroke="#000" stroke-width="0.15" text-anchor="end">0%</text>
<line x1="49.80" y1="631.18" x2="53.30" y2="631.18" stroke="#9a9a9a" stroke-width="1"/>
<line x1="51.30" y1="634.70" x2="53.30" y2="634.70" stroke="#bdbdbd" stroke-width="0.8"/>
<line x1="51.30" y1="638.23" x2="53.30" y2="638.23" stroke="#bdbdbd" stroke-width="0.8"/>
<line x1="51.30" y1="641.75" x2="53.30" y2="641.75" stroke="#bdbdbd" stroke-width="0.8"/>
<line x1="51.30" y1="645.28" x2="53.30" y2="645.28" stroke="#bdbdbd" stroke-width="0.8"/>
<line x1="53.30" y1="648.80" x2="382.90" y2="648.80" stroke="#bfbfbf" stroke-width="1"/>
<text x="46.60" y="652.30" font-size="9" fill="#000" stroke="#000" stroke-width="0.15" text-anchor="end">-2%</text>
<line x1="49.80" y1="648.80" x2="53.30" y2="648.80" stroke="#9a9a9a" stroke-width="1"/>
<line x1="51.30" y1="652.32" x2="53.30" y2="652.32" stroke="#bdbdbd" stroke-width="0.8"/>
<line x1="51.30" y1="655.85" x2="53.30" y2="655.85" stroke="#bdbdbd" stroke-width="0.8"/>
<line x1="51.30" y1="659.37" x2="53.30" y2="659.37" stroke="#bdbdbd" stroke-width="0.8"/>
<line x1="51.30" y1="662.90" x2="53.30" y2="662.90" stroke="#bdbdbd" stroke-width="0.8"/>
<line x1="53.30" y1="666.42" x2="382.90" y2="666.42" stroke="#bfbfbf" stroke-width="1"/>
<text x="46.60" y="669.92" font-size="9" fill="#000" stroke="#000" stroke-width="0.15" text-anchor="end">-4%</text>
<line x1="49.80" y1="666.42" x2="53.30" y2="666.42" stroke="#9a9a9a" stroke-width="1"/>
<line x1="51.30" y1="669.94" x2="53.30" y2="669.94" stroke="#bdbdbd" stroke-width="0.8"/>
<line x1="51.30" y1="673.47" x2="53.30" y2="673.47" stroke="#bdbdbd" stroke-width="0.8"/>
<line x1="51.30" y1="676.99" x2="53.30" y2="676.99" stroke="#bdbdbd" stroke-width="0.8"/>
<line x1="51.30" y1="680.52" x2="53.30" y2="680.52" stroke="#bdbdbd" stroke-width="0.8"/>
<line x1="53.30" y1="684.04" x2="382.90" y2="684.04" stroke="#bfbfbf" stroke-width="1"/>
<text x="46.60" y="687.54" font-size="9" fill="#000" stroke="#000" stroke-width="0.15" text-anchor="end">-6%</text>
<line x1="49.80" y1="684.04" x2="53.30" y2="684.04" stroke="#9a9a9a" stroke-width="1"/>
<line x1="51.30" y1="687.56" x2="53.30" y2="687.56" stroke="#bdbdbd" stroke-width="0.8"/>
<line x1="51.30" y1="691.09" x2="53.30" y2="691.09" stroke="#bdbdbd" stroke-width="0.8"/>
<line x1="51.30" y1="694.61" x2="53.30" y2="694.61" stroke="#bdbdbd" stroke-width="0.8"/>
<line x1="51.30" y1="698.14" x2="53.30" y2="698.14" stroke="#bdbdbd" stroke-width="0.8"/>
<line x1="53.30" y1="701.66" x2="382.90" y2="701.66" stroke="#bfbfbf" stroke-width="1"/>
<text x="46.60" y="705.16" font-size="9" fill="#000" stroke="#000" stroke-width="0.15" text-anchor="end">-8%</text>
<line x1="49.80" y1="701.66" x2="53.30" y2="701.66" stroke="#9a9a9a" stroke-width="1"/>
<line x1="51.30" y1="705.18" x2="53.30" y2="705.18" stroke="#bdbdbd" stroke-width="0.8"/>
<line x1="51.30" y1="708.71" x2="53.30" y2="708.71" stroke="#bdbdbd" stroke-width="0.8"/>
<line x1="51.30" y1="712.23" x2="53.30" y2="712.23" stroke="#bdbdbd" stroke-width="0.8"/>
<line x1="51.30" y1="715.76" x2="53.30" y2="715.76" stroke="#bdbdbd" stroke-width="0.8"/>
<line x1="53.30" y1="719.28" x2="382.90" y2="719.28" stroke="#bfbfbf" stroke-width="1"/>
<text x="46.60" y="722.78" font-size="9" fill="#000" stroke="#000" stroke-width="0.15" text-anchor="end">-10%</text>
<line x1="49.80" y1="719.28" x2="53.30" y2="719.28" stroke="#9a9a9a" stroke-width="1"/>
<line x1="51.30" y1="722.80" x2="53.30" y2="722.80" stroke="#bdbdbd" stroke-width="0.8"/>
<line x1="51.30" y1="726.33" x2="53.30" y2="726.33" stroke="#bdbdbd" stroke-width="0.8"/>
<line x1="51.30" y1="729.85" x2="53.30" y2="729.85" stroke="#bdbdbd" stroke-width="0.8"/>
<line x1="51.30" y1="733.38" x2="53.30" y2="733.38" stroke="#bdbdbd" stroke-width="0.8"/>
<text x="46.60" y="740.40" font-size="9" fill="#000" stroke="#000" stroke-width="0.15" text-anchor="end">-12%</text>
<line x1="49.80" y1="736.90" x2="53.30" y2="736.90" stroke="#9a9a9a" stroke-width="1"/>
<line x1="218.10" y1="560.70" x2="218.10" y2="736.90" stroke="#bfbfbf" stroke-width="1"/>
<line x1="53.30" y1="560.70" x2="382.90" y2="560.70" stroke="#b4b4b4" stroke-width="1"/>
<line x1="382.90" y1="560.70" x2="382.90" y2="736.90" stroke="#b4b4b4" stroke-width="1"/>
<line x1="53.30" y1="736.90" x2="382.90" y2="736.90" stroke="#a8a8a8" stroke-width="1.4"/>
<line x1="53.30" y1="560.70" x2="53.30" y2="736.90" stroke="#9a9a9a" stroke-width="1"/>
<line x1="53.30" y1="630.90" x2="382.90" y2="630.90" stroke="#8c8c8c" stroke-width="1"/>
<rect x="56.20" y="630.90" width="26.50" height="7.17" fill="#4f5db3"/>
<rect x="56.20" y="630.90" width="26.50" height="1.00" fill="rgba(0,0,0,0.28)"/>
<rect x="57.20" y="631.90" width="24.20" height="1.20" fill="rgba(255,255,255,0.28)"/>
<rect x="81.40" y="630.90" width="1.30" height="7.17" fill="rgba(0,0,0,0.38)"/>
<rect x="56.20" y="630.90" width="0.80" height="7.17" fill="rgba(0,0,0,0.18)"/>
<rect x="56.20" y="637.07" width="26.50" height="1.00" fill="rgba(0,0,0,0.25)"/>
<text x="69.45" y="647.87" font-size="9" fill="#4f5db3" text-anchor="middle">-0.7%</text>
<rect x="82.70" y="622.29" width="26.50" height="8.61" fill="#f5a21e"/>
<rect x="82.70" y="622.29" width="26.50" height="1.00" fill="rgba(0,0,0,0.28)"/>
<rect x="83.70" y="623.29" width="24.20" height="1.20" fill="rgba(255,255,255,0.28)"/>
<rect x="107.90" y="622.29" width="1.30" height="8.61" fill="rgba(0,0,0,0.38)"/>
<rect x="82.70" y="622.29" width="0.80" height="8.61" fill="rgba(0,0,0,0.18)"/>
<rect x="82.70" y="629.90" width="26.50" height="1.00" fill="rgba(0,0,0,0.25)"/>
<text x="95.95" y="618.69" font-size="9" fill="#f5a21e" text-anchor="middle">+1.0%</text>
<rect x="109.20" y="630.90" width="26.50" height="75.00" fill="#66801a"/>
<rect x="109.20" y="630.90" width="26.50" height="1.00" fill="rgba(0,0,0,0.28)"/>
<rect x="110.20" y="631.90" width="24.20" height="1.20" fill="rgba(255,255,255,0.28)"/>
<rect x="134.40" y="630.90" width="1.30" height="75.00" fill="rgba(0,0,0,0.38)"/>
<rect x="109.20" y="630.90" width="0.80" height="75.00" fill="rgba(0,0,0,0.18)"/>
<rect x="109.20" y="704.90" width="26.50" height="1.00" fill="rgba(0,0,0,0.25)"/>
<text x="122.45" y="701.10" font-size="9" fill="#fff" text-anchor="middle">-8.4%</text>
<rect x="135.70" y="630.90" width="26.50" height="35.36" fill="#5f437c"/>
<rect x="135.70" y="630.90" width="26.50" height="1.00" fill="rgba(0,0,0,0.28)"/>
<rect x="136.70" y="631.90" width="24.20" height="1.20" fill="rgba(255,255,255,0.28)"/>
<rect x="160.90" y="630.90" width="1.30" height="35.36" fill="rgba(0,0,0,0.38)"/>
<rect x="135.70" y="630.90" width="0.80" height="35.36" fill="rgba(0,0,0,0.18)"/>
<rect x="135.70" y="665.26" width="26.50" height="1.00" fill="rgba(0,0,0,0.25)"/>
<text x="148.95" y="661.46" font-size="9" fill="#fff" text-anchor="middle">-3.9%</text>
<rect x="162.20" y="630.90" width="26.50" height="23.02" fill="#808080"/>
<rect x="162.20" y="630.90" width="26.50" height="1.00" fill="rgba(0,0,0,0.28)"/>
<rect x="163.20" y="631.90" width="24.20" height="1.20" fill="rgba(255,255,255,0.28)"/>
<rect x="187.40" y="630.90" width="1.30" height="23.02" fill="rgba(0,0,0,0.38)"/>
<rect x="162.20" y="630.90" width="0.80" height="23.02" fill="rgba(0,0,0,0.18)"/>
<rect x="162.20" y="652.92" width="26.50" height="1.00" fill="rgba(0,0,0,0.25)"/>
<text x="175.45" y="649.12" font-size="9" fill="#fff" text-anchor="middle">-2.5%</text>
<rect x="188.70" y="630.90" width="26.50" height="54.74" fill="#0a0a0a"/>
<rect x="188.70" y="630.90" width="26.50" height="1.00" fill="rgba(0,0,0,0.28)"/>
<rect x="189.70" y="631.90" width="24.20" height="1.20" fill="rgba(255,255,255,0.28)"/>
<rect x="213.90" y="630.90" width="1.30" height="54.74" fill="rgba(0,0,0,0.38)"/>
<rect x="188.70" y="630.90" width="0.80" height="54.74" fill="rgba(0,0,0,0.18)"/>
<rect x="188.70" y="684.64" width="26.50" height="1.00" fill="rgba(0,0,0,0.25)"/>
<text x="201.95" y="680.84" font-size="9" fill="#fff" text-anchor="middle">-6.1%</text>
<rect x="222.00" y="612.28" width="26.50" height="18.62" fill="#4f5db3"/>
<rect x="222.00" y="612.28" width="26.50" height="1.00" fill="rgba(0,0,0,0.28)"/>
<rect x="223.00" y="613.28" width="24.20" height="1.20" fill="rgba(255,255,255,0.28)"/>
<rect x="247.20" y="612.28" width="1.30" height="18.62" fill="rgba(0,0,0,0.38)"/>
<rect x="222.00" y="612.28" width="0.80" height="18.62" fill="rgba(0,0,0,0.18)"/>
<rect x="222.00" y="629.90" width="26.50" height="1.00" fill="rgba(0,0,0,0.25)"/>
<text x="235.25" y="623.28" font-size="9" fill="#fff" text-anchor="middle">+2.0%</text>
<rect x="248.50" y="580.56" width="26.50" height="50.34" fill="#f5a21e"/>
<rect x="248.50" y="580.56" width="26.50" height="1.00" fill="rgba(0,0,0,0.28)"/>
<rect x="249.50" y="581.56" width="24.20" height="1.20" fill="rgba(255,255,255,0.28)"/>
<rect x="273.70" y="580.56" width="1.30" height="50.34" fill="rgba(0,0,0,0.38)"/>
<rect x="248.50" y="580.56" width="0.80" height="50.34" fill="rgba(0,0,0,0.18)"/>
<rect x="248.50" y="629.90" width="26.50" height="1.00" fill="rgba(0,0,0,0.25)"/>
<text x="261.75" y="591.56" font-size="9" fill="#fff" text-anchor="middle">+5.6%</text>
<rect x="275.00" y="630.90" width="26.50" height="98.79" fill="#66801a"/>
<rect x="275.00" y="630.90" width="26.50" height="1.00" fill="rgba(0,0,0,0.28)"/>
<rect x="276.00" y="631.90" width="24.20" height="1.20" fill="rgba(255,255,255,0.28)"/>
<rect x="300.20" y="630.90" width="1.30" height="98.79" fill="rgba(0,0,0,0.38)"/>
<rect x="275.00" y="630.90" width="0.80" height="98.79" fill="rgba(0,0,0,0.18)"/>
<rect x="275.00" y="728.69" width="26.50" height="1.00" fill="rgba(0,0,0,0.25)"/>
<text x="288.25" y="724.89" font-size="9" fill="#fff" text-anchor="middle">-11.1%</text>
<rect x="301.50" y="630.90" width="26.50" height="42.41" fill="#5f437c"/>
<rect x="301.50" y="630.90" width="26.50" height="1.00" fill="rgba(0,0,0,0.28)"/>
<rect x="302.50" y="631.90" width="24.20" height="1.20" fill="rgba(255,255,255,0.28)"/>
<rect x="326.70" y="630.90" width="1.30" height="42.41" fill="rgba(0,0,0,0.38)"/>
<rect x="301.50" y="630.90" width="0.80" height="42.41" fill="rgba(0,0,0,0.18)"/>
<rect x="301.50" y="672.31" width="26.50" height="1.00" fill="rgba(0,0,0,0.25)"/>
<text x="314.75" y="668.51" font-size="9" fill="#fff" text-anchor="middle">-4.7%</text>
<rect x="328.00" y="630.90" width="26.50" height="8.05" fill="#808080"/>
<rect x="328.00" y="630.90" width="26.50" height="1.00" fill="rgba(0,0,0,0.28)"/>
<rect x="329.00" y="631.90" width="24.20" height="1.20" fill="rgba(255,255,255,0.28)"/>
<rect x="353.20" y="630.90" width="1.30" height="8.05" fill="rgba(0,0,0,0.38)"/>
<rect x="328.00" y="630.90" width="0.80" height="8.05" fill="rgba(0,0,0,0.18)"/>
<rect x="328.00" y="637.95" width="26.50" height="1.00" fill="rgba(0,0,0,0.25)"/>
<text x="341.25" y="648.75" font-size="9" fill="#808080" text-anchor="middle">-0.8%</text>
<rect x="354.50" y="630.90" width="26.50" height="39.76" fill="#0a0a0a"/>
<rect x="354.50" y="630.90" width="26.50" height="1.00" fill="rgba(0,0,0,0.28)"/>
<rect x="355.50" y="631.90" width="24.20" height="1.20" fill="rgba(255,255,255,0.28)"/>
<rect x="379.70" y="630.90" width="1.30" height="39.76" fill="rgba(0,0,0,0.38)"/>
<rect x="354.50" y="630.90" width="0.80" height="39.76" fill="rgba(0,0,0,0.18)"/>
<rect x="354.50" y="669.66" width="26.50" height="1.00" fill="rgba(0,0,0,0.25)"/>
<text x="367.75" y="665.86" font-size="9" fill="#fff" text-anchor="middle">-4.4%</text>
<text x="136.60" y="750.70" font-size="9" fill="#000" stroke="#000" stroke-width="0.15" text-anchor="middle">Visitors</text>
<text x="300.60" y="750.70" font-size="9" fill="#000" stroke="#000" stroke-width="0.15" text-anchor="middle">Nights</text>
<text x="413.90" y="731.90" font-size="10" fill="#000" stroke="#000" stroke-width="0.15" text-anchor="start">% of visitors</text>
<text x="434.70" y="745.50" font-size="10" fill="#000" stroke="#000" stroke-width="0.15" text-anchor="end">60%</text>
<line x1="439.80" y1="742.10" x2="443.30" y2="742.10" stroke="#9a9a9a" stroke-width="1"/>
<line x1="441.30" y1="747.53" x2="443.30" y2="747.53" stroke="#bdbdbd" stroke-width="0.8"/>
<line x1="441.30" y1="752.96" x2="443.30" y2="752.96" stroke="#bdbdbd" stroke-width="0.8"/>
<line x1="441.30" y1="758.39" x2="443.30" y2="758.39" stroke="#bdbdbd" stroke-width="0.8"/>
<line x1="441.30" y1="763.82" x2="443.30" y2="763.82" stroke="#bdbdbd" stroke-width="0.8"/>
<line x1="443.30" y1="769.25" x2="769.60" y2="769.25" stroke="#bfbfbf" stroke-width="1"/>
<text x="434.70" y="772.65" font-size="10" fill="#000" stroke="#000" stroke-width="0.15" text-anchor="end">50%</text>
<line x1="439.80" y1="769.25" x2="443.30" y2="769.25" stroke="#9a9a9a" stroke-width="1"/>
<line x1="441.30" y1="774.68" x2="443.30" y2="774.68" stroke="#bdbdbd" stroke-width="0.8"/>
<line x1="441.30" y1="780.11" x2="443.30" y2="780.11" stroke="#bdbdbd" stroke-width="0.8"/>
<line x1="441.30" y1="785.54" x2="443.30" y2="785.54" stroke="#bdbdbd" stroke-width="0.8"/>
<line x1="441.30" y1="790.97" x2="443.30" y2="790.97" stroke="#bdbdbd" stroke-width="0.8"/>
<line x1="443.30" y1="796.40" x2="769.60" y2="796.40" stroke="#bfbfbf" stroke-width="1"/>
<text x="434.70" y="799.80" font-size="10" fill="#000" stroke="#000" stroke-width="0.15" text-anchor="end">40%</text>
<line x1="439.80" y1="796.40" x2="443.30" y2="796.40" stroke="#9a9a9a" stroke-width="1"/>
<line x1="441.30" y1="801.83" x2="443.30" y2="801.83" stroke="#bdbdbd" stroke-width="0.8"/>
<line x1="441.30" y1="807.26" x2="443.30" y2="807.26" stroke="#bdbdbd" stroke-width="0.8"/>
<line x1="441.30" y1="812.69" x2="443.30" y2="812.69" stroke="#bdbdbd" stroke-width="0.8"/>
<line x1="441.30" y1="818.12" x2="443.30" y2="818.12" stroke="#bdbdbd" stroke-width="0.8"/>
<line x1="443.30" y1="823.55" x2="769.60" y2="823.55" stroke="#bfbfbf" stroke-width="1"/>
<text x="434.70" y="826.95" font-size="10" fill="#000" stroke="#000" stroke-width="0.15" text-anchor="end">30%</text>
<line x1="439.80" y1="823.55" x2="443.30" y2="823.55" stroke="#9a9a9a" stroke-width="1"/>
<line x1="441.30" y1="828.98" x2="443.30" y2="828.98" stroke="#bdbdbd" stroke-width="0.8"/>
<line x1="441.30" y1="834.41" x2="443.30" y2="834.41" stroke="#bdbdbd" stroke-width="0.8"/>
<line x1="441.30" y1="839.84" x2="443.30" y2="839.84" stroke="#bdbdbd" stroke-width="0.8"/>
<line x1="441.30" y1="845.27" x2="443.30" y2="845.27" stroke="#bdbdbd" stroke-width="0.8"/>
<line x1="443.30" y1="850.70" x2="769.60" y2="850.70" stroke="#bfbfbf" stroke-width="1"/>
<text x="434.70" y="854.10" font-size="10" fill="#000" stroke="#000" stroke-width="0.15" text-anchor="end">20%</text>
<line x1="439.80" y1="850.70" x2="443.30" y2="850.70" stroke="#9a9a9a" stroke-width="1"/>
<line x1="441.30" y1="856.13" x2="443.30" y2="856.13" stroke="#bdbdbd" stroke-width="0.8"/>
<line x1="441.30" y1="861.56" x2="443.30" y2="861.56" stroke="#bdbdbd" stroke-width="0.8"/>
<line x1="441.30" y1="866.99" x2="443.30" y2="866.99" stroke="#bdbdbd" stroke-width="0.8"/>
<line x1="441.30" y1="872.42" x2="443.30" y2="872.42" stroke="#bdbdbd" stroke-width="0.8"/>
<line x1="443.30" y1="877.85" x2="769.60" y2="877.85" stroke="#bfbfbf" stroke-width="1"/>
<text x="434.70" y="881.25" font-size="10" fill="#000" stroke="#000" stroke-width="0.15" text-anchor="end">10%</text>
<line x1="439.80" y1="877.85" x2="443.30" y2="877.85" stroke="#9a9a9a" stroke-width="1"/>
<line x1="441.30" y1="883.28" x2="443.30" y2="883.28" stroke="#bdbdbd" stroke-width="0.8"/>
<line x1="441.30" y1="888.71" x2="443.30" y2="888.71" stroke="#bdbdbd" stroke-width="0.8"/>
<line x1="441.30" y1="894.14" x2="443.30" y2="894.14" stroke="#bdbdbd" stroke-width="0.8"/>
<line x1="441.30" y1="899.57" x2="443.30" y2="899.57" stroke="#bdbdbd" stroke-width="0.8"/>
<text x="434.70" y="908.40" font-size="10" fill="#000" stroke="#000" stroke-width="0.15" text-anchor="end">0%</text>
<line x1="439.80" y1="905.00" x2="443.30" y2="905.00" stroke="#9a9a9a" stroke-width="1"/>
<line x1="443.30" y1="742.10" x2="769.60" y2="742.10" stroke="#b4b4b4" stroke-width="1"/>
<line x1="769.60" y1="742.10" x2="769.60" y2="905.00" stroke="#b4b4b4" stroke-width="1"/>
<line x1="443.30" y1="742.10" x2="443.30" y2="905.00" stroke="#9a9a9a" stroke-width="1"/>
<rect x="453.33" y="753.50" width="44.00" height="151.50" fill="#4f5db3"/>
<rect x="453.33" y="753.50" width="44.00" height="1.00" fill="rgba(0,0,0,0.28)"/>
<rect x="454.33" y="754.50" width="41.70" height="1.20" fill="rgba(255,255,255,0.28)"/>
<rect x="496.03" y="753.50" width="1.30" height="151.50" fill="rgba(0,0,0,0.38)"/>
<rect x="453.33" y="753.50" width="0.80" height="151.50" fill="rgba(0,0,0,0.18)"/>
<rect x="453.33" y="904.00" width="44.00" height="1.00" fill="rgba(0,0,0,0.25)"/>
<text transform="translate(475.83,765.20) scale(0.965,1)" font-size="10" fill="#fff" text-anchor="middle">55.8%</text>
<text x="475.93" y="918.20" font-size="9" fill="#000" stroke="#000" stroke-width="0.15" text-anchor="middle">Eat out, dine at</text>
<text x="475.93" y="929.00" font-size="9" fill="#000" stroke="#000" stroke-width="0.15" text-anchor="middle">a restaurant or</text>
<text x="475.93" y="939.20" font-size="9" fill="#000" stroke="#000" stroke-width="0.15" text-anchor="middle">cafe</text>
<rect x="518.59" y="805.36" width="44.00" height="99.64" fill="#4f5db3"/>
<rect x="518.59" y="805.36" width="44.00" height="1.00" fill="rgba(0,0,0,0.28)"/>
<rect x="519.59" y="806.36" width="41.70" height="1.20" fill="rgba(255,255,255,0.28)"/>
<rect x="561.29" y="805.36" width="1.30" height="99.64" fill="rgba(0,0,0,0.38)"/>
<rect x="518.59" y="805.36" width="0.80" height="99.64" fill="rgba(0,0,0,0.18)"/>
<rect x="518.59" y="904.00" width="44.00" height="1.00" fill="rgba(0,0,0,0.25)"/>
<text transform="translate(541.09,817.06) scale(0.965,1)" font-size="10" fill="#fff" text-anchor="middle">36.7%</text>
<text x="541.19" y="918.20" font-size="9" fill="#000" stroke="#000" stroke-width="0.15" text-anchor="middle">Bushwalking or</text>
<text x="541.19" y="929.00" font-size="9" fill="#000" stroke="#000" stroke-width="0.15" text-anchor="middle">rainforest walks</text>
<rect x="583.85" y="819.21" width="44.00" height="85.79" fill="#4f5db3"/>
<rect x="583.85" y="819.21" width="44.00" height="1.00" fill="rgba(0,0,0,0.28)"/>
<rect x="584.85" y="820.21" width="41.70" height="1.20" fill="rgba(255,255,255,0.28)"/>
<rect x="626.55" y="819.21" width="1.30" height="85.79" fill="rgba(0,0,0,0.38)"/>
<rect x="583.85" y="819.21" width="0.80" height="85.79" fill="rgba(0,0,0,0.18)"/>
<rect x="583.85" y="904.00" width="44.00" height="1.00" fill="rgba(0,0,0,0.25)"/>
<text transform="translate(606.35,830.91) scale(0.965,1)" font-size="10" fill="#fff" text-anchor="middle">31.6%</text>
<text x="606.45" y="918.20" font-size="9" fill="#000" stroke="#000" stroke-width="0.15" text-anchor="middle">Sightseeing or</text>
<text x="606.45" y="929.00" font-size="9" fill="#000" stroke="#000" stroke-width="0.15" text-anchor="middle">looking around</text>
<rect x="649.11" y="837.67" width="44.00" height="67.33" fill="#4f5db3"/>
<rect x="649.11" y="837.67" width="44.00" height="1.00" fill="rgba(0,0,0,0.28)"/>
<rect x="650.11" y="838.67" width="41.70" height="1.20" fill="rgba(255,255,255,0.28)"/>
<rect x="691.81" y="837.67" width="1.30" height="67.33" fill="rgba(0,0,0,0.38)"/>
<rect x="649.11" y="837.67" width="0.80" height="67.33" fill="rgba(0,0,0,0.18)"/>
<rect x="649.11" y="904.00" width="44.00" height="1.00" fill="rgba(0,0,0,0.25)"/>
<text transform="translate(671.61,849.37) scale(0.965,1)" font-size="10" fill="#fff" text-anchor="middle">24.8%</text>
<text x="671.71" y="918.20" font-size="9" fill="#000" stroke="#000" stroke-width="0.15" text-anchor="middle">Visit national</text>
<text x="671.71" y="929.00" font-size="9" fill="#000" stroke="#000" stroke-width="0.15" text-anchor="middle">parks or state</text>
<text x="671.71" y="939.20" font-size="9" fill="#000" stroke="#000" stroke-width="0.15" text-anchor="middle">parks</text>
<rect x="714.37" y="843.37" width="44.00" height="61.63" fill="#4f5db3"/>
<rect x="714.37" y="843.37" width="44.00" height="1.00" fill="rgba(0,0,0,0.28)"/>
<rect x="715.37" y="844.37" width="41.70" height="1.20" fill="rgba(255,255,255,0.28)"/>
<rect x="757.07" y="843.37" width="1.30" height="61.63" fill="rgba(0,0,0,0.38)"/>
<rect x="714.37" y="843.37" width="0.80" height="61.63" fill="rgba(0,0,0,0.18)"/>
<rect x="714.37" y="904.00" width="44.00" height="1.00" fill="rgba(0,0,0,0.25)"/>
<text transform="translate(736.87,855.07) scale(0.965,1)" font-size="10" fill="#fff" text-anchor="middle">22.7%</text>
<text x="736.97" y="918.20" font-size="9" fill="#000" stroke="#000" stroke-width="0.15" text-anchor="middle">Pubs, clubs,</text>
<text x="736.97" y="929.00" font-size="9" fill="#000" stroke="#000" stroke-width="0.15" text-anchor="middle">discos etc</text>
<line x1="439.80" y1="905.00" x2="769.60" y2="905.00" stroke="#9a9a9a" stroke-width="1"/>
<line x1="443.30" y1="905.00" x2="443.30" y2="908.50" stroke="#9a9a9a" stroke-width="1"/>
<line x1="508.56" y1="905.00" x2="508.56" y2="908.50" stroke="#9a9a9a" stroke-width="1"/>
<line x1="573.82" y1="905.00" x2="573.82" y2="908.50" stroke="#9a9a9a" stroke-width="1"/>
<line x1="639.08" y1="905.00" x2="639.08" y2="908.50" stroke="#9a9a9a" stroke-width="1"/>
<line x1="704.34" y1="905.00" x2="704.34" y2="908.50" stroke="#9a9a9a" stroke-width="1"/>
<line x1="769.60" y1="905.00" x2="769.60" y2="908.50" stroke="#9a9a9a" stroke-width="1"/>
<rect x="412.00" y="149.70" width="360.40" height="15.60" fill="#fff" stroke="#c4c4c4" stroke-width="1"/>
<rect x="432.20" y="154.60" width="5.40" height="5.40" fill="#4a57a8"/>
<rect x="432.20" y="154.60" width="5.40" height="5.40" fill="none" stroke="rgba(0,0,0,0.42)" stroke-width="0.9"/>
<rect x="433.20" y="155.60" width="3.40" height="1.00" fill="rgba(255,255,255,0.15)"/>
<text x="440.80" y="161.20" font-size="10" fill="#000" stroke="#000" stroke-width="0.15" text-anchor="start">Regional Victoria</text>
<rect x="535.80" y="154.60" width="5.40" height="5.40" fill="#573e70"/>
<rect x="535.80" y="154.60" width="5.40" height="5.40" fill="none" stroke="rgba(0,0,0,0.42)" stroke-width="0.9"/>
<rect x="536.80" y="155.60" width="3.40" height="1.00" fill="rgba(255,255,255,0.15)"/>
<text x="543.90" y="161.20" font-size="10" fill="#000" stroke="#000" stroke-width="0.15" text-anchor="start">Melbourne TR</text>
<rect x="627.20" y="154.60" width="5.40" height="5.40" fill="#f39a1c"/>
<rect x="627.20" y="154.60" width="5.40" height="5.40" fill="none" stroke="rgba(0,0,0,0.42)" stroke-width="0.9"/>
<rect x="628.20" y="155.60" width="3.40" height="1.00" fill="rgba(255,255,255,0.15)"/>
<text x="634.80" y="161.20" font-size="10" fill="#000" stroke="#000" stroke-width="0.15" text-anchor="start">NSW</text>
<rect x="677.50" y="154.60" width="5.40" height="5.40" fill="#5d7816"/>
<rect x="677.50" y="154.60" width="5.40" height="5.40" fill="none" stroke="rgba(0,0,0,0.42)" stroke-width="0.9"/>
<rect x="678.50" y="155.60" width="3.40" height="1.00" fill="rgba(255,255,255,0.15)"/>
<text x="685.60" y="161.20" font-size="10" fill="#000" stroke="#000" stroke-width="0.15" text-anchor="start">Other interstate</text>
<defs>
<linearGradient id="sp" x1="0" x2="1" y1="0" y2="0"><stop offset="0" stop-color="#45315c"/><stop offset="0.25" stop-color="#38284b"/><stop offset="0.5" stop-color="#261b33"/><stop offset="0.8" stop-color="#21172c"/><stop offset="1" stop-color="#21172c"/></linearGradient>
<linearGradient id="sb" x1="0" x2="1" y1="0" y2="0"><stop offset="0" stop-color="#1d2348"/><stop offset="1" stop-color="#1f2752"/></linearGradient>
</defs>
<path d="M582.50,247.30 A84.9,59.2 0 0 1 561.64,286.17 L561.64,301.87 A84.9,59.2 0 0 0 582.50,263.00 Z" fill="url(#sb)"/>
<path d="M561.64,286.17 A84.9,59.2 0 0 1 412.70,247.30 L412.70,263.00 A84.9,59.2 0 0 0 561.64,301.87 Z" fill="url(#sp)"/>
<path d="M497.60,247.30 L497.60,188.10 A84.9,59.2 0 0 1 561.64,286.17 Z" fill="#4a57a8" stroke="#4a57a8" stroke-width="0.25"/>
<path d="M497.60,247.30 L561.64,286.17 A84.9,59.2 0 0 1 429.23,212.20 Z" fill="#573e70" stroke="#573e70" stroke-width="0.25"/>
<path d="M497.60,247.30 L429.23,212.20 A84.9,59.2 0 0 1 477.52,189.78 Z" fill="#f39a1c" stroke="#f39a1c" stroke-width="0.25"/>
<path d="M497.60,247.30 L477.52,189.78 A84.9,59.2 0 0 1 497.60,188.10 Z" fill="#5d7816" stroke="#5d7816" stroke-width="0.25"/>
<path d="M582.45,249.37 A84.9,59.2 0 0 1 412.75,249.37" fill="none" stroke="rgba(255,255,255,0.10)" stroke-width="0.8"/>
<path d="M412.70,247.30 A84.9,59.2 0 0 1 582.50,247.30" fill="none" stroke="rgba(0,0,0,0.25)" stroke-width="0.7"/>
<path d="M771.30,247.00 A85.3,59.4 0 0 1 747.81,287.93 L747.81,303.63 A85.3,59.4 0 0 0 771.30,262.70 Z" fill="url(#sb)"/>
<path d="M747.81,287.93 A85.3,59.4 0 0 1 600.70,247.00 L600.70,262.70 A85.3,59.4 0 0 0 747.81,303.63 Z" fill="url(#sp)"/>
<path d="M686.00,247.00 L686.00,187.60 A85.3,59.4 0 0 1 747.81,287.93 Z" fill="#4a57a8" stroke="#4a57a8" stroke-width="0.25"/>
<path d="M686.00,247.00 L747.81,287.93 A85.3,59.4 0 0 1 616.68,212.39 Z" fill="#573e70" stroke="#573e70" stroke-width="0.25"/>
<path d="M686.00,247.00 L616.68,212.39 A85.3,59.4 0 0 1 660.15,190.39 Z" fill="#f39a1c" stroke="#f39a1c" stroke-width="0.25"/>
<path d="M686.00,247.00 L660.15,190.39 A85.3,59.4 0 0 1 685.46,187.60 Z" fill="#5d7816" stroke="#5d7816" stroke-width="0.25"/>
<path d="M771.25,249.07 A85.3,59.4 0 0 1 600.75,249.07" fill="none" stroke="rgba(255,255,255,0.10)" stroke-width="0.8"/>
<path d="M600.70,247.00 A85.3,59.4 0 0 1 771.30,247.00" fill="none" stroke="rgba(0,0,0,0.25)" stroke-width="0.7"/>
<text x="554.70" y="233.20" font-size="10" fill="#fff" text-anchor="middle">36.4%</text>
<text x="453.30" y="290.30" font-size="10" fill="#fff" text-anchor="middle">48.7%</text>
<text x="458.60" y="209.80" font-size="10" fill="#fff" text-anchor="middle">11.1%</text>
<text x="490.20" y="183.20" font-size="10" fill="#5d7816" text-anchor="start">3.8%</text>
<line x1="490.00" y1="183.20" x2="487.30" y2="189.40" stroke="#000" stroke-width="0.9"/>
<text x="744.20" y="233.20" font-size="10" fill="#fff" text-anchor="middle">37.1%</text>
<text x="641.00" y="288.30" font-size="10" fill="#fff" text-anchor="middle">47.8%</text>
<text x="645.30" y="211.00" font-size="10" fill="#fff" text-anchor="middle">10.2%</text>
<text x="675.00" y="201.00" font-size="10" fill="#fff" text-anchor="middle">4.8%</text>
<text x="495.60" y="362.50" font-size="10" fill="#000" stroke="#000" stroke-width="0.15" text-anchor="middle">Visitors</text>
<text x="688.00" y="362.50" font-size="10" fill="#000" stroke="#000" stroke-width="0.15" text-anchor="middle">Nights</text>
</svg>
<div class="t" style="left:22.0px;top:373.94px;word-spacing:1.236px;">High Country received over 1.9 million overnight visitors - up by</div>
<div class="t" style="left:22.0px;top:389.94px;word-spacing:1.155px;">18.6% on YE Jun 21. Visitors spent over 6.0 million nights in the</div>
<div class="t" style="left:22.0px;top:404.94px;">region - up by 23.2% on YE Jun 21.</div>
<div class="t" style="left:22.0px;top:452.94px;word-spacing:2.019px;">High Country received 13.0% of visitors and 13.6% of nights in</div>
<div class="t" style="left:22.0px;top:467.94px;word-spacing:0.113px;">regional Victoria. Compared to YE Jun 21, the share of visitors was</div>
<div class="t" style="left:22.0px;top:482.94px;">up by 0.6% pts and the share of nights was up by 1.9% pts.</div>
<div class="t" style="left:22.0px;top:756.94px;word-spacing:2.089px;">Over the period YE Jun 18 to YE Jun 22, High Country had an</div>
<div class="t" style="left:22.0px;top:771.94px;word-spacing:-0.116px;">average annual decline of -0.7% in domestic <b>visitors</b>. High Country</div>
<div class="t" style="left:22.0px;top:787.94px;word-spacing:0.263px;">had a lower decline than Snowy Mountains NSW, regional Victoria</div>
<div class="t" style="left:22.0px;top:802.94px;">and Victoria.</div>
<div class="t" style="left:22.0px;top:828.94px;word-spacing:1.389px;">High Country had an average annual growth of 2.0% in domestic</div>
<div class="t" style="left:22.0px;top:844.94px;word-spacing:2.143px;">visitor <b>nights</b> over the period. Whilst High Country had growth,</div>
<div class="t" style="left:22.0px;top:859.94px;word-spacing:-0.044px;">Snowy Mountains NSW, regional Victoria and Victoria experienced</div>
<div class="t" style="left:22.0px;top:875.94px;">a decline.</div>
<div class="t" style="left:22.0px;top:923.94px;word-spacing:4.846px;">‘Friends or relatives property’ (23.7%) was the most popular</div>
<div class="t" style="left:22.0px;top:938.94px;word-spacing:0.018px;">accommodation type used for <b>nights</b> in the High Country. ‘Caravan</div>
<div class="t" style="left:22.0px;top:953.94px;word-spacing:2.825px;">park or commercial camping ground’ (15.5%) was the 2<sup class="s">nd</sup> most</div>
<div class="t" style="left:22.0px;top:969.94px;word-spacing:-0.732px;">popular accommodation used, followed by ‘rented house, apartment,</div>
<div class="t" style="left:410.2px;top:370.94px;word-spacing:0.322px;">High Country received 85.1% of visitors and 85.0% of nights from</div>
<div class="t" style="left:410.2px;top:385.94px;word-spacing:0.970px;"><b>intrastate</b>. Compared to YE Jun 21, intrastate visitors were up by</div>
<div class="t" style="left:410.2px;top:400.94px;">13.4% and nights were up by 18.2%.</div>
<div class="t" style="left:410.2px;top:425.94px;word-spacing:0.173px;"><b>Interstate</b> contributed 14.9% of visitors and 15.0% of nights in the</div>
<div class="t" style="left:410.2px;top:441.94px;word-spacing:-0.679px;">region. Compared to YE Jun 21, interstate visitors were up by 60.7%</div>
<div class="t" style="left:410.2px;top:456.94px;">and nights were up by 61.6%.</div>
<div class="t" style="left:410.2px;top:507.94px;word-spacing:0.783px;">‘Holiday’ (69.0%) was the largest purpose for <b>visitors</b> to the High</div>
<div class="t" style="left:410.2px;top:523.94px;word-spacing:0.198px;">Country. ‘Visiting friends and relatives’ (23.7%) was the 2<sup class="s">nd</sup> largest</div>
<div class="t" style="left:410.2px;top:538.94px;">purpose, followed by ‘business’ (5.7%).</div>
<div class="t" style="left:410.2px;top:588.94px;word-spacing:0.863px;">Visitors stayed on average 3.1 nights in the High Country – up by</div>
<div class="t" style="left:410.2px;top:603.94px;">0.1 night on YE Jun 21.</div>
<div class="t" style="left:410.2px;top:654.94px;word-spacing:-0.133px;">‘35 to 44 years’ (20.1%) was the biggest age group of visitors to the</div>
<div class="t" style="left:410.2px;top:670.94px;">High Country, followed by ‘65 years and over’ (17.5%).</div>
<div class="t" style="left:410.2px;top:944.94px;word-spacing:0.234px;">‘Eat out, dine at a restaurant or cafe’ (55.8%) was the most popular</div>
<div class="t" style="left:410.2px;top:960.94px;">activity undertaken by visitors to the High Country.</div>
<div class="h" style="left:22.0px;top:127.60px">Visitors and nights</div>
<div class="r" style="left:20px;width:368.0px;top:145px;height:3px"></div>
<div class="h" style="left:22.0px;top:431.60px">Market share</div>
<div class="r" style="left:20px;width:368.0px;top:449px;height:3px"></div>
<div class="h" style="left:22.0px;top:509.60px">Average annual growth – YE Jun 18 to YE Jun 22</div>
<div class="r" style="left:20px;width:368.0px;top:527px;height:3px"></div>
<div class="h" style="left:22.0px;top:901.60px">Accommodation</div>
<div class="r" style="left:20px;width:368.0px;top:920px;height:3px"></div>
<div class="h" style="left:410.2px;top:127.60px">Origin</div>
<div class="r" style="left:408px;width:368.0px;top:145px;height:3px"></div>
<div class="h" style="left:410.2px;top:486.60px">Purpose of visit</div>
<div class="r" style="left:408px;width:368.0px;top:504px;height:3px"></div>
<div class="h" style="left:410.2px;top:567.60px">Length of stay</div>
<div class="r" style="left:408px;width:368.0px;top:585px;height:3px"></div>
<div class="h" style="left:410.2px;top:633.60px">Age</div>
<div class="r" style="left:408px;width:368.0px;top:651px;height:3px"></div>
<div class="h" style="left:410.2px;top:698.60px">Activities</div>
<div class="r" style="left:408px;width:368.0px;top:717px;height:3px"></div>
<div class="x" style="left:21.6px;top:23.75px;font-size:28.9px;line-height:34.68px;transform:scaleX(0.8366);transform-origin:0 0;">Domestic travel to High Country</div>
<div class="x" style="left:368.0px;top:24.05px;font-size:19.6px;line-height:23.52px;transform:scaleX(0.9);transform-origin:0 0;">(1)</div>
<div class="x" style="left:21.8px;top:56.73px;font-size:21.2px;line-height:25.44px;transform:scaleX(0.8317);transform-origin:0 0;">For the period July 2021 to June 2022</div>
<div class="r" style="left:20px;width:756px;top:83px;height:3px"></div>
<div class="x" style="left:316.0px;top:94.44px;font-size:21.4px;line-height:25.68px;font-weight:bold;">Overnight travel</div>
</body></html>
